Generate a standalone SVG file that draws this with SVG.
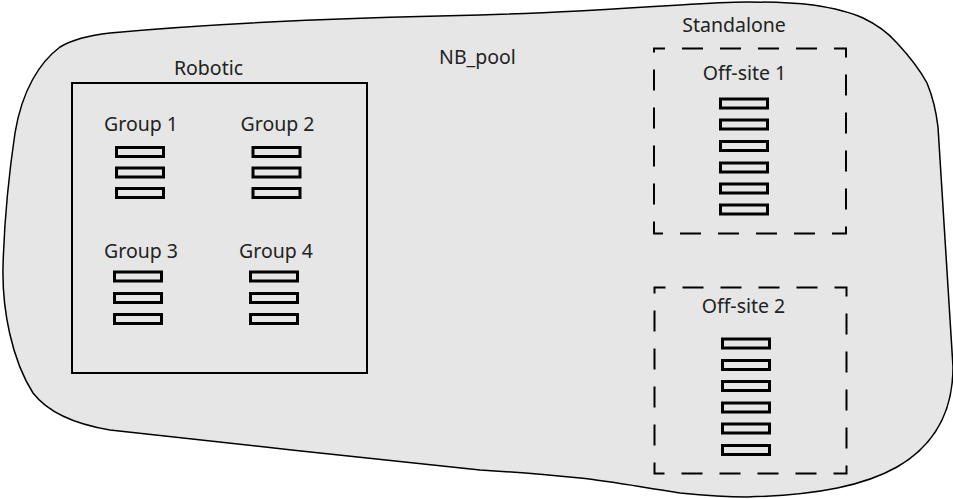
<svg xmlns="http://www.w3.org/2000/svg" xmlns:xlink="http://www.w3.org/1999/xlink" width="953" height="499" viewBox="0 0 953 499">
  <style>
    .lbl { font-family: "Noto Sans", "Open Sans", "Liberation Sans", sans-serif; font-size: 19.5px; fill: #222; text-anchor: middle; }
    .tape { fill: none; stroke: #000; stroke-width: 3; }
    .box { fill: none; stroke: #000; stroke-width: 2; }
    .dash { fill: none; stroke: #000; stroke-width: 2; stroke-dasharray: 21 17; stroke-dashoffset: 10; }
    .pool { fill: #e6e6e6; stroke: #000; stroke-width: 1.5; }
  </style>
  <defs>
    <rect id="tape" x="0" y="0" width="47" height="9" class="tape"/>
  </defs>
  <rect x="0" y="0" width="953" height="499" fill="#fff"/>

  <g id="nb_pool">
    <path class="pool" d="M 110,33 C 230,22 380,17 480,15 C 520,14 600,10 680,5 C 710,3 730,2 747,2 C 770,2 795,3 813,5 C 833,8 850,12 863,18 C 880,26 890,35 897,43 C 910,57 920,70 927,83 C 932,95 936,110 938,127 L 953,367 C 953,410 935,445 897,467 C 865,485 820,495 747,497 C 720,497 700,495 680,493 C 640,487 610,481 580,478 C 550,475 515,472 480,470 C 360,458 230,443 110,430 C 80,425 50,415 33,393 C 12,360 2,310 3,267 C 4,230 8,180 15,133 C 22,90 40,62 60,47 C 75,38 92,35 110,33 Z"/>
    <text class="lbl" x="477.5" y="64">NB_pool</text>
  </g>

  <g id="robotic">
    <rect class="box" x="72" y="83" width="295" height="290"/>
    <text class="lbl" x="208.5" y="75">Robotic</text>
  </g>

  <g id="group1">
    <text class="lbl" x="141" y="131">Group 1</text>
    <use xlink:href="#tape" x="116.5" y="147.5"/>
    <use xlink:href="#tape" x="116.5" y="168"/>
    <use xlink:href="#tape" x="116.5" y="188.5"/>
  </g>

  <g id="group2">
    <text class="lbl" x="277.5" y="131">Group 2</text>
    <use xlink:href="#tape" x="253" y="147.5"/>
    <use xlink:href="#tape" x="253" y="168"/>
    <use xlink:href="#tape" x="253" y="188.5"/>
  </g>

  <g id="group3">
    <text class="lbl" x="141" y="258">Group 3</text>
    <use xlink:href="#tape" x="114.5" y="272"/>
    <use xlink:href="#tape" x="114.5" y="293.5"/>
    <use xlink:href="#tape" x="114.5" y="314.5"/>
  </g>

  <g id="group4">
    <text class="lbl" x="276" y="258">Group 4</text>
    <use xlink:href="#tape" x="250.5" y="272"/>
    <use xlink:href="#tape" x="250.5" y="293.5"/>
    <use xlink:href="#tape" x="250.5" y="314.5"/>
  </g>

  <g id="standalone">
    <text class="lbl" x="734" y="32">Standalone</text>
  </g>

  <g id="offsite1">
    <rect class="dash" x="654" y="48.5" width="192" height="185"/>
    <text class="lbl" x="744.5" y="80">Off-site 1</text>
    <use xlink:href="#tape" x="720.5" y="99"/>
    <use xlink:href="#tape" x="720.5" y="120"/>
    <use xlink:href="#tape" x="720.5" y="141.5"/>
    <use xlink:href="#tape" x="720.5" y="163"/>
    <use xlink:href="#tape" x="720.5" y="184"/>
    <use xlink:href="#tape" x="720.5" y="205"/>
  </g>

  <g id="offsite2">
    <rect class="dash" x="654.5" y="287.5" width="192" height="186"/>
    <text class="lbl" x="743.5" y="313">Off-site 2</text>
    <use xlink:href="#tape" x="722.5" y="339"/>
    <use xlink:href="#tape" x="722.5" y="360.5"/>
    <use xlink:href="#tape" x="722.5" y="381.5"/>
    <use xlink:href="#tape" x="722.5" y="403"/>
    <use xlink:href="#tape" x="722.5" y="424"/>
    <use xlink:href="#tape" x="722.5" y="445.5"/>
  </g>

  <g id="connectors"></g>
</svg>
